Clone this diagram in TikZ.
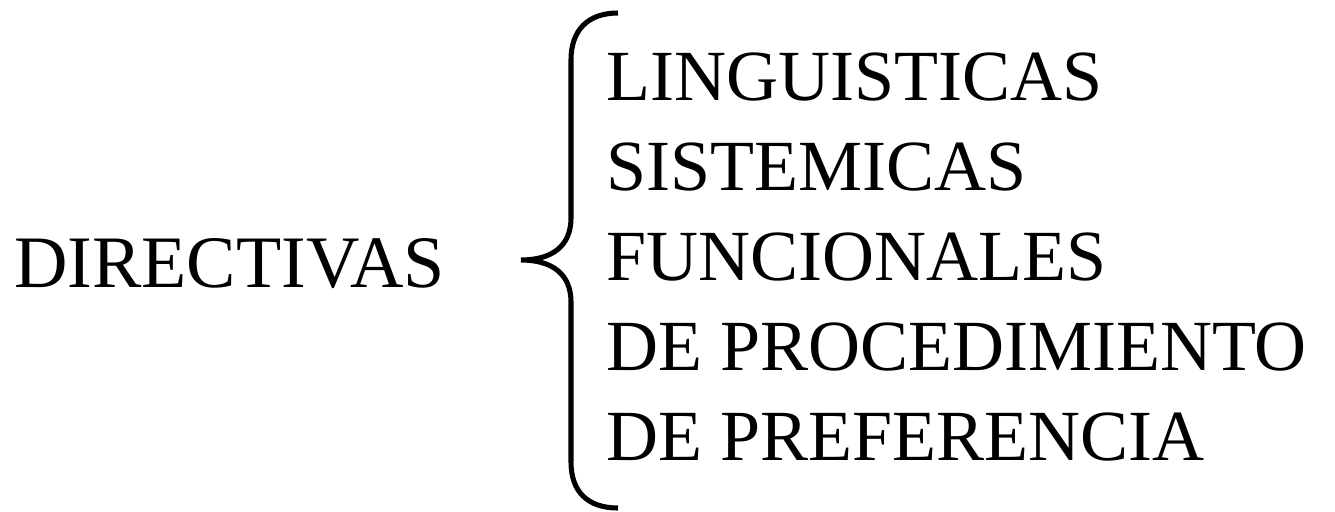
\documentclass[tikz,border=0pt]{standalone}
\usepackage{fontspec}
\setmainfont{Liberation Serif}
\usetikzlibrary{positioning}

\begin{document}
\begin{tikzpicture}[
  x=0.75pt, y=-0.75pt,
  every node/.style={inner sep=0pt, font=\fontsize{54}{60}\selectfont},
  item/.style={anchor=base west},
  brace/.style={draw, line width=3.8pt, line cap=butt}
]
\useasboundingbox (0,0) rectangle (1335,511);
\node[item, font=\fontsize{55.5}{60}\selectfont] (dir) at (14,287) {DIRECTIVAS};
\foreach \t [count=\i] in {LINGUISTICAS, SISTEMICAS, FUNCIONALES,
    DE PROCEDIMIENTO, DE PREFERENCIA}
  \node[item] (r\i) at (606,10+90*\i) {\t};
% the brace
\coordinate (top) at (618,13);
\coordinate (tip) at (521,260);
\coordinate (bot) at (618,508);
\draw[brace] (top) .. controls (588,13) and (571,30) .. (571,60)
  -- (571,218) .. controls (571,246) and (552,260) .. (tip)
  .. controls (552,260) and (571,274) .. (571,302)
  -- (571,462) .. controls (571,492) and (588,508) .. (bot);
\end{tikzpicture}
\end{document}
